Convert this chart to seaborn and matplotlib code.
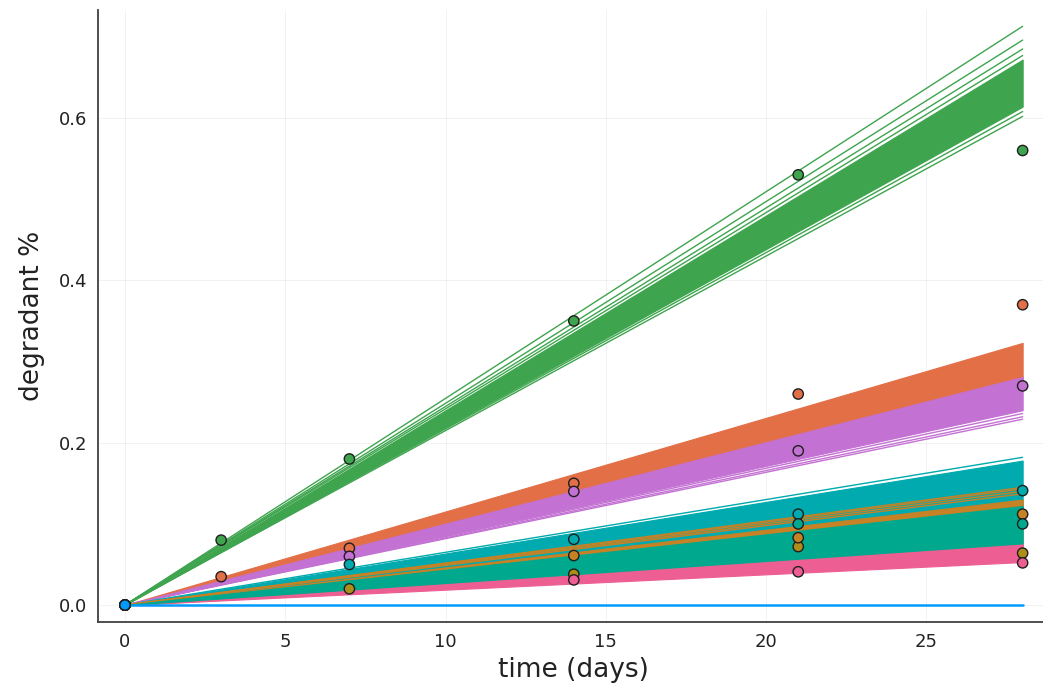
import numpy as np
import pandas as pd
import matplotlib
matplotlib.use("Agg")
import matplotlib.pyplot as plt
import seaborn as sns

nan = np.nan

# measurement days
days = [0, 3, 7, 14, 21, 28]

compounds = ["C1", "C2", "C3", "C4", "C5", "C6", "C7", "C8", "C9"]
colors = ["#009AFA", "#E36F47", "#3EA44E", "#C371D2", "#AC8E18",
          "#00AAAE", "#ED5E93", "#C68225", "#00A98D"]

# observed degradant % per compound (nan = not measured)
obs_c1 = [0.0, nan, nan, nan, nan, nan]
obs_c2 = [0.0, 0.035, 0.07, 0.15, 0.26, 0.37]
obs_c3 = [0.0, 0.08, 0.18, 0.35, 0.53, 0.56]
obs_c4 = [0.0, nan, 0.06, 0.14, 0.19, 0.27]
obs_c5 = [0.0, nan, 0.02, 0.038, 0.072, 0.064]
obs_c6 = [0.0, nan, 0.05, 0.081, 0.112, 0.141]
obs_c7 = [0.0, nan, nan, 0.031, 0.041, 0.052]
obs_c8 = [0.0, nan, nan, 0.061, 0.083, 0.112]
obs_c9 = [0.0, nan, nan, nan, 0.10, 0.10]
observed = [obs_c1, obs_c2, obs_c3, obs_c4, obs_c5, obs_c6, obs_c7, obs_c8, obs_c9]

# posterior fits through the origin: value reached at day 28
# dense core of the samples (low / high) ...
core_lo = [0.0, 0.268, 0.614, 0.240, 0.060, 0.110, 0.053, 0.095, 0.076]
core_hi = [0.0, 0.323, 0.672, 0.281, 0.100, 0.178, 0.076, 0.130, 0.122]
# ... and the stray sample lines outside it
extra_c1 = [0.0]
extra_c2 = []
extra_c3 = [0.713, 0.696, 0.685, 0.677, 0.608, 0.602]
extra_c4 = [0.236, 0.232, 0.229]
extra_c5 = []
extra_c6 = [0.182]
extra_c7 = []
extra_c8 = [0.137, 0.140, 0.143, 0.145]
extra_c9 = []
extras = [extra_c1, extra_c2, extra_c3, extra_c4, extra_c5, extra_c6,
          extra_c7, extra_c8, extra_c9]

t_end = days[-1]

line_rows = []
for name, ends in zip(compounds, extras):
    for k, v in enumerate(ends):
        line_rows.append((name, k, days[0], 0.0))
        line_rows.append((name, k, t_end, v))
lines = pd.DataFrame(line_rows, columns=["compound", "sample", "day", "value"])

obs_rows = []
for name, vals in zip(compounds, observed):
    for d, v in zip(days, vals):
        if not np.isnan(v):
            obs_rows.append((name, d, v))
points = pd.DataFrame(obs_rows, columns=["compound", "day", "value"])
# first compound's point sits on top
points["order"] = points["compound"].map(lambda c: 1 if c == "C1" else 0)
points = points.sort_values("order", kind="stable")

sns.set_style("white")
plt.rcParams["font.family"] = ["DejaVu Sans"]

fig = plt.figure(figsize=(10.43, 6.94), dpi=100)
ax = fig.add_axes([0.094, 0.1037, 0.9123, 0.8818])

pal = dict(zip(compounds, colors))
for i, name in enumerate(compounds):
    z = 2 + i
    c = pal[name]
    if core_hi[i] > core_lo[i]:
        ax.fill_between([days[0], t_end], [0.0, core_lo[i]], [0.0, core_hi[i]],
                        color=c, lw=0.8, zorder=z)
    sub = lines[lines["compound"] == name]
    if len(sub):
        lw = 1.8 if name == "C1" else 1.0
        sns.lineplot(data=sub, x="day", y="value", units="sample", estimator=None,
                     color=c, lw=lw, ax=ax, zorder=z + 20 if name == "C1" else z,
                     legend=False)

sns.scatterplot(data=points, x="day", y="value", hue="compound", palette=pal,
                s=55, edgecolor="#1f1f1f", linewidth=1.0, zorder=40,
                legend=False, ax=ax)

ax.set_xlim(-0.84, 28.84)
ax.set_ylim(-0.0209, 0.733)
ax.set_xticks([0, 5, 10, 15, 20, 25])
ax.set_yticks([0.0, 0.2, 0.4, 0.6])
ax.set_yticklabels(["0.0", "0.2", "0.4", "0.6"])
ax.grid(True, color="black", alpha=0.07, lw=0.5)
ax.set_axisbelow(True)

for s in ["top", "right"]:
    ax.spines[s].set_visible(False)
for s in ["left", "bottom"]:
    ax.spines[s].set_color("#404040")
    ax.spines[s].set_linewidth(1.3)
ax.tick_params(direction="in", length=5, width=1.0, color="#404040",
               labelsize=13, labelcolor="#222222", pad=8)

ax.set_xlabel("time (days)", fontsize=19, color="#222222", labelpad=4)
ax.set_ylabel("degradant %", fontsize=19, color="#222222", labelpad=10)

fig.savefig("out.png", dpi=100)
